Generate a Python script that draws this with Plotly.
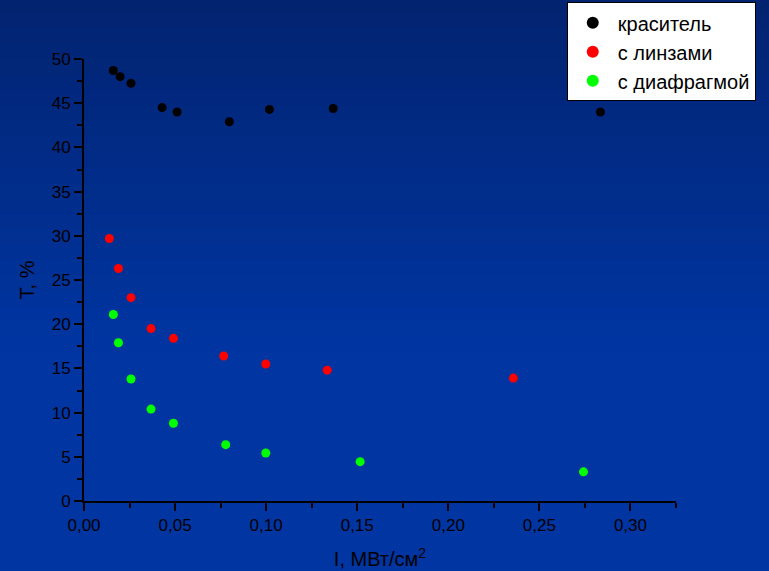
import plotly.graph_objects as go

# Data
dye_x = [0.0161, 0.0198, 0.0258, 0.0429, 0.0511, 0.0798, 0.1018, 0.1368, 0.2835]
dye_y = [48.7, 48.0, 47.25, 44.5, 44.0, 42.9, 44.3, 44.4, 44.0]

lens_x = [0.0139, 0.0189, 0.0258, 0.0368, 0.0491, 0.0767, 0.0998, 0.1335, 0.2357]
lens_y = [29.7, 26.3, 23.0, 19.5, 18.4, 16.4, 15.5, 14.8, 13.9]

diaph_x = [0.0161, 0.0189, 0.0258, 0.0368, 0.0491, 0.0778, 0.0998, 0.1516, 0.2742]
diaph_y = [21.1, 17.9, 13.8, 10.4, 8.8, 6.37, 5.43, 4.45, 3.3]

series_names = ["краситель", "с линзами", "с диафрагмой"]
series_colors = ["#000000", "#ff0000", "#00ff00"]

x_ticks = [0.0, 0.05, 0.10, 0.15, 0.20, 0.25, 0.30]
x_ticklabels = ["0,00", "0,05", "0,10", "0,15", "0,20", "0,25", "0,30"]
y_ticks = [0, 5, 10, 15, 20, 25, 30, 35, 40, 45, 50]

FONT = "Liberation Sans, Arial, sans-serif"

fig = go.Figure()
for xs, ys, name, col in zip([dye_x, lens_x, diaph_x], [dye_y, lens_y, diaph_y],
                             series_names, series_colors):
    fig.add_trace(go.Scatter(x=xs, y=ys, mode="markers", name=name,
                             marker=dict(color=col, size=9, line=dict(width=0))))

# vertical gradient background
shapes = []
n = 40
top = (0x02, 0x22, 0x6c)
bot = (0x00, 0x35, 0xa2)
for i in range(n):
    t = i / (n - 1)
    t2 = min(1.0, t * 1.6)
    c = tuple(int(round(top[k] + (bot[k] - top[k]) * t2)) for k in range(3))
    shapes.append(dict(type="rect", xref="paper", yref="paper", layer="below",
                       x0=-1, x1=2, y0=1.2 - (i + 1) * (1.4 / n) - 0.01, y1=1.2 - i * (1.4 / n) + 0.01,
                       fillcolor="rgb(%d,%d,%d)" % c, line=dict(width=0)))

fig.update_layout(
    width=769, height=571,
    margin=dict(l=84, r=93, t=59, b=70, autoexpand=False),
    paper_bgcolor="#0033a0",
    plot_bgcolor="rgba(0,0,0,0)",
    shapes=shapes,
    font=dict(family=FONT, size=17, color="#000000"),
    showlegend=True,
    legend=dict(xref="container", yref="container", x=0.737, y=0.996,
                xanchor="left", yanchor="top",
                bgcolor="#ffffff", bordercolor="#000000", borderwidth=1,
                font=dict(family=FONT, size=20, color="#000000"),
                itemwidth=40, itemsizing="constant", tracegroupgap=0),
    xaxis=dict(range=[0, 0.325], tickvals=x_ticks, ticktext=x_ticklabels, automargin=False,
               showgrid=False, zeroline=False, showline=True, linecolor="#000000", linewidth=2,
               ticks="outside", ticklen=8, tickwidth=1.5, tickcolor="#000000",
               minor=dict(dtick=0.025, tick0=0, ticklen=5, tickcolor="#000000", ticks="outside", showgrid=False),
               tickfont=dict(size=17),
               title=dict(text="I, МВт/см<sup>2</sup>", font=dict(size=20), standoff=18)),
    yaxis=dict(range=[0, 50], tickvals=y_ticks, automargin=False,
               showgrid=False, zeroline=False, showline=True, linecolor="#000000", linewidth=2,
               ticks="outside", ticklen=8, tickwidth=1.5, tickcolor="#000000",
               minor=dict(dtick=2.5, tick0=0, ticklen=5, tickcolor="#000000", ticks="outside", showgrid=False),
               tickfont=dict(size=17),
               title=dict(text="T, %", font=dict(size=20), standoff=12)),
)

fig.write_html("out.html")
